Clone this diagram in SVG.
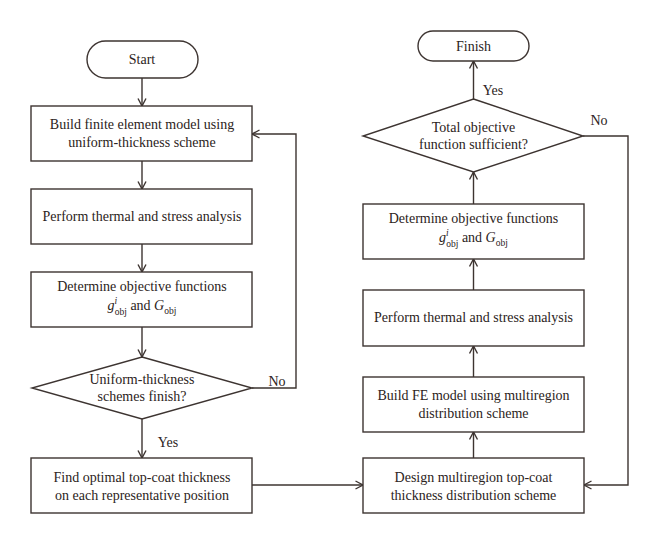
<svg xmlns="http://www.w3.org/2000/svg" width="660" height="545" viewBox="0 0 660 545">
<style>
  .box { fill: #ffffff; stroke: #3d3431; stroke-width: 1.4; }
  .ln { fill: none; stroke: #3d3431; stroke-width: 1.4; }
  text { font-family: "Liberation Serif", "Times New Roman", serif; font-size: 14px; fill: #2b2321; text-anchor: middle; }
  .it { font-style: italic; }
  .sm { font-size: 9.5px; }
</style>
<defs>
  <marker id="arr" viewBox="0 0 10 10" refX="9.5" refY="5" markerWidth="10" markerHeight="10" markerUnits="userSpaceOnUse" orient="auto">
    <path d="M2,1 L9.5,5 L2,9" fill="none" stroke="#3d3431" stroke-width="1.4"/>
  </marker>
</defs>
<rect width="660" height="545" fill="#ffffff"/>

<g id="connectors">
  <line class="ln" x1="142" y1="78" x2="142" y2="106" marker-end="url(#arr)"/>
  <line class="ln" x1="142" y1="161" x2="142" y2="189" marker-end="url(#arr)"/>
  <line class="ln" x1="142" y1="244" x2="142" y2="272" marker-end="url(#arr)"/>
  <line class="ln" x1="142" y1="327" x2="142" y2="357" marker-end="url(#arr)"/>
  <line class="ln" x1="142" y1="419" x2="142" y2="458" marker-end="url(#arr)"/>
  <polyline class="ln" points="252,388 296,388 296,134 252,134" marker-end="url(#arr)"/>
  <line class="ln" x1="252" y1="485" x2="363" y2="485" marker-end="url(#arr)"/>
  <polyline class="ln" points="583,136 628,136 628,485 584,485" marker-end="url(#arr)"/>
  <line class="ln" x1="473.5" y1="458" x2="473.5" y2="432" marker-end="url(#arr)"/>
  <line class="ln" x1="473.5" y1="377" x2="473.5" y2="346" marker-end="url(#arr)"/>
  <line class="ln" x1="473.5" y1="290" x2="473.5" y2="259" marker-end="url(#arr)"/>
  <line class="ln" x1="473.5" y1="204" x2="473.5" y2="172" marker-end="url(#arr)"/>
  <line class="ln" x1="473.5" y1="99" x2="473.5" y2="61" marker-end="url(#arr)"/>
  <text x="277" y="386">No</text>
  <text x="168" y="447">Yes</text>
  <text x="493" y="95">Yes</text>
  <text x="599" y="125">No</text>
</g>

<g id="start">
  <rect class="box" x="87" y="41" width="111" height="37" rx="18.5"/>
  <text x="142" y="64">Start</text>
</g>
<g id="build-uniform">
  <rect class="box" x="31" y="106" width="221" height="55"/>
  <text x="142" y="129">Build finite element model using</text>
  <text x="142" y="147">uniform-thickness scheme</text>
</g>
<g id="perform-left">
  <rect class="box" x="31" y="189" width="221" height="55"/>
  <text x="142" y="221">Perform thermal and stress analysis</text>
</g>
<g id="determine-left">
  <rect class="box" x="31" y="272" width="221" height="55"/>
  <text x="142" y="291">Determine objective functions</text>
  <text x="142" y="310"><tspan class="it">g</tspan><tspan class="it sm" dy="-6">i</tspan><tspan class="sm" dx="-2.5" dy="11">obj</tspan><tspan dy="-5"> and </tspan><tspan class="it">G</tspan><tspan class="sm" dy="4">obj</tspan></text>
</g>
<g id="uniform-finish">
  <polygon class="box" points="142,357 252,388 142,419 32,388"/>
  <text x="142" y="384">Uniform-thickness</text>
  <text x="142" y="401">schemes finish?</text>
</g>
<g id="find-optimal">
  <rect class="box" x="31" y="458" width="221" height="55"/>
  <text x="142" y="482">Find optimal top-coat thickness</text>
  <text x="142" y="500">on each representative position</text>
</g>

<g id="finish">
  <rect class="box" x="418" y="31" width="111" height="30" rx="15"/>
  <text x="473.5" y="51">Finish</text>
</g>
<g id="total-sufficient">
  <polygon class="box" points="473.5,99 583,136 473.5,172 363,136"/>
  <text x="473.5" y="132">Total objective</text>
  <text x="473.5" y="149">function sufficient?</text>
</g>
<g id="determine-right">
  <rect class="box" x="363" y="204" width="221" height="55"/>
  <text x="473.5" y="223">Determine objective functions</text>
  <text x="473.5" y="242"><tspan class="it">g</tspan><tspan class="it sm" dy="-6">i</tspan><tspan class="sm" dx="-2.5" dy="11">obj</tspan><tspan dy="-5"> and </tspan><tspan class="it">G</tspan><tspan class="sm" dy="4">obj</tspan></text>
</g>
<g id="perform-right">
  <rect class="box" x="363" y="290" width="221" height="56"/>
  <text x="473.5" y="322">Perform thermal and stress analysis</text>
</g>
<g id="build-fe">
  <rect class="box" x="363" y="377" width="221" height="55"/>
  <text x="473.5" y="400">Build FE model using multiregion</text>
  <text x="473.5" y="418">distribution scheme</text>
</g>
<g id="design-multiregion">
  <rect class="box" x="363" y="458" width="221" height="55"/>
  <text x="473.5" y="482">Design multiregion top-coat</text>
  <text x="473.5" y="500">thickness distribution scheme</text>
</g>
</svg>
